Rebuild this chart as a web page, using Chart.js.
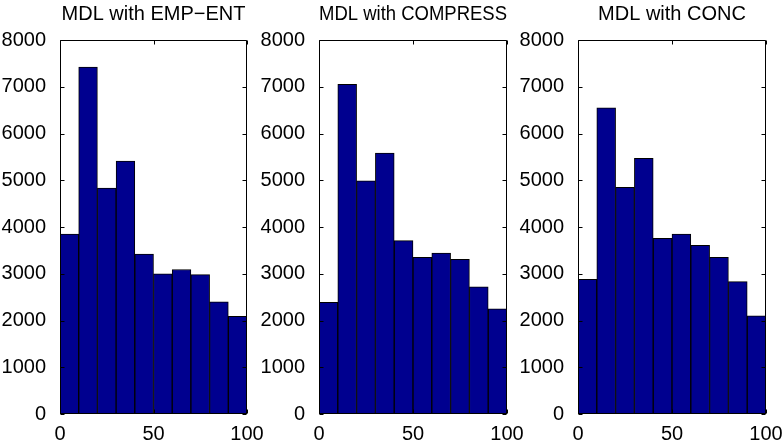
<!DOCTYPE html>
<html>
<head>
<meta charset="utf-8">
<title>MDL histograms</title>
<script src="https://cdn.jsdelivr.net/npm/chart.js@4.4.1/dist/chart.umd.min.js"></script>
<style>
    html, body { margin: 0; padding: 0; background: #ffffff; }
    .wrap { position: relative; width: 784px; height: 444px; }
    .wrap canvas { position: absolute; left: 0; top: 0; }
</style>
</head>
<body>
<div class="wrap">
    <canvas id="chart-emp"></canvas>
    <canvas id="chart-compress"></canvas>
    <canvas id="chart-conc"></canvas>
</div>
<script>
// Histogram bins (centres) and counts
const binCenters = [5, 15, 25, 35, 45, 55, 65, 75, 85, 95];
const empEntCounts = [3850, 7420, 4830, 5410, 3420, 3000, 3090, 2980, 2400, 2090];
const compressCounts = [2390, 7050, 4990, 5580, 3710, 3350, 3440, 3310, 2720, 2250];
const concCounts = [2880, 6550, 4850, 5470, 3760, 3850, 3610, 3350, 2830, 2100];
const panelTitles = ['MDL with EMP\u2212ENT', 'MDL with COMPRESS', 'MDL with CONC'];

const X_MIN = 0, X_MAX = 100, X_STEP = 50;
const Y_MIN = 0, Y_MAX = 8000, Y_STEP = 1000;

const W = 784, H = 444;
const BAR_COLOR = '#00008f';
const FONT = { family: '"Liberation Sans", Arial, Helvetica, sans-serif', size: 20 };

// plot box edges (left, right) for each panel
const panels = [
    { id: 'chart-emp', left: 60, right: 247, counts: empEntCounts, title: panelTitles[0] },
    { id: 'chart-compress', left: 319, right: 507, counts: compressCounts, title: panelTitles[1] },
    { id: 'chart-conc', left: 578, right: 766, counts: concCounts, title: panelTitles[2] }
];

const Y_AXIS_W = 60;
const X_AXIS_H = 30;
const TICK_LEN = 4;

// MATLAB style box with inward ticks on all four sides
const boxPlugin = {
    id: 'matlabBox',
    afterDatasetsDraw(chart) {
        const { ctx, chartArea: a, scales } = chart;
        const l = Math.round(a.left) + 0.5, r = Math.round(a.right) - 0.5;
        const t = Math.round(a.top) + 0.5, b = Math.round(a.bottom) - 0.5;
        ctx.save();
        ctx.strokeStyle = '#000';
        ctx.lineWidth = 1;
        ctx.beginPath();
        ctx.rect(l, t, r - l, b - t);
        scales.y.ticks.forEach(tk => {
            const y = Math.round(scales.y.getPixelForValue(tk.value)) + 0.5;
            ctx.moveTo(l, y); ctx.lineTo(l + TICK_LEN, y);
            ctx.moveTo(r, y); ctx.lineTo(r - TICK_LEN, y);
        });
        scales.x.ticks.forEach(tk => {
            const x = Math.round(scales.x.getPixelForValue(tk.value)) + 0.5;
            ctx.moveTo(x, b); ctx.lineTo(x, b - TICK_LEN);
            ctx.moveTo(x, t); ctx.lineTo(x, t + TICK_LEN);
        });
        ctx.stroke();
        ctx.restore();
    }
};

function createHistogram(panel) {
    const canvas = document.getElementById(panel.id);
    canvas.width = W;
    canvas.height = H;
    const ctx = canvas.getContext('2d');

    return new Chart(ctx, {
        type: 'bar',
        data: {
            datasets: [{
                data: binCenters.map((x, i) => ({ x: x, y: panel.counts[i] })),
                backgroundColor: BAR_COLOR,
                borderColor: '#000000',
                borderWidth: 1,
                borderSkipped: false,
                barPercentage: 1,
                categoryPercentage: 1
            }]
        },
        options: {
            responsive: false,
            animation: false,
            layout: {
                padding: { left: panel.left - Y_AXIS_W, right: W - panel.right, top: 0, bottom: 0 }
            },
            plugins: {
                legend: { display: false },
                tooltip: { enabled: false },
                title: {
                    display: true,
                    text: panel.title,
                    fullSize: false,
                    color: '#000',
                    font: { family: FONT.family, size: 20, weight: 'normal' },
                    padding: { top: 2, bottom: 14 }
                }
            },
            scales: {
                x: {
                    type: 'linear',
                    min: X_MIN,
                    max: X_MAX,
                    offset: false,
                    grid: { display: false, offset: false },
                    border: { display: false },
                    ticks: { stepSize: X_STEP, color: '#000', font: FONT, padding: 0, maxRotation: 0,
                             callback: (v) => String(v) },
                    afterFit: (s) => { s.height = X_AXIS_H; s.paddingLeft = 0; s.paddingRight = 0; }
                },
                y: {
                    min: Y_MIN,
                    max: Y_MAX,
                    grid: { display: false },
                    border: { display: false },
                    ticks: { stepSize: Y_STEP, color: '#000', font: FONT, padding: 6,
                             callback: (v) => String(v) },
                    afterFit: (s) => { s.width = Y_AXIS_W; s.paddingTop = 0; s.paddingBottom = 0; }
                }
            }
        },
        plugins: [boxPlugin]
    });
}

panels.forEach(createHistogram);
</script>
</body>
</html>
